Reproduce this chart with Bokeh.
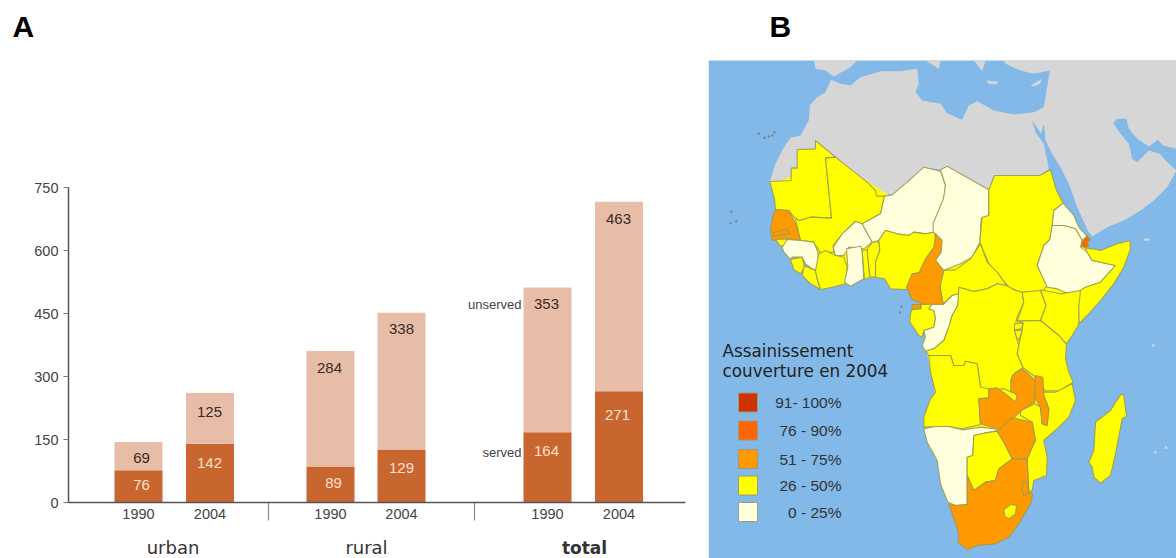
from bokeh.core.properties import value
from bokeh.embed import file_html
from bokeh.layouts import row
from bokeh.models import FixedTicker, LinearAxis, Range1d
from bokeh.plotting import figure
from bokeh.resources import INLINE

# ---------- panel A data ----------
years = ["1990", "2004", "1990", "2004", "1990", "2004"]
groups = ["urban", "rural", "total"]
y_ticks = [0, 150, 300, 450, 600, 750]
served_labels = [76, 142, 89, 129, 164, 271]
unserved_labels = [69, 125, 284, 338, 353, 463]
# drawn heights of the bars, read against the axis (they run a little below the printed numbers)
served_drawn = [77, 140, 86, 126, 167, 265]
unserved_drawn = [67, 121, 275, 326, 345, 451]

# ---------- panel A layout ----------
PX_PER_UNIT = 0.42
BASE_PX = 502
def val(py):
    return (BASE_PX - py) / PX_PER_UNIT
bar_x = [138, 209.5, 330, 401, 547, 618.5]
served_text_x = [141, 209, 333, 401, 546, 617]
unserved_text_x = [141, 209, 329, 401, 546, 618]
served_text_py = [484, 462, 482, 467, 450, 414]
unserved_text_py = [457, 411, 367, 328, 303, 218]
group_x = [172.5, 366, 584]
sep_x = [268, 474]

DARK = "#c9652e"
LIGHT = "#e8bda7"
FONT = "Liberation Sans"

a = figure(width=708, height=558, x_range=Range1d(0, 708),
           y_range=Range1d(val(558), val(0)), output_backend="svg",
           toolbar_location=None, min_border=0, outline_line_color=None)
a.grid.visible = False
a.xaxis.visible = False
a.yaxis.visible = False

yax = LinearAxis(fixed_location=68, bounds=(0, 750), ticker=FixedTicker(ticks=y_ticks))
yax.axis_line_color = "#555555"; yax.axis_line_width = 1.5
yax.major_tick_line_color = "#777777"; yax.major_tick_out = 5; yax.major_tick_in = 0
yax.minor_tick_line_color = None
yax.major_label_text_font = FONT; yax.major_label_text_font_size = "14.5px"
yax.major_label_text_color = "#444444"; yax.major_label_standoff = 5
a.add_layout(yax, "left")

xax = LinearAxis(fixed_location=0, bounds=(68, 685), ticker=FixedTicker(ticks=bar_x))
xax.major_label_overrides = dict(zip(bar_x, years))
xax.axis_line_color = "#555555"; xax.axis_line_width = 1.5
xax.major_tick_line_color = None; xax.minor_tick_line_color = None
xax.major_label_text_font = FONT; xax.major_label_text_font_size = "14.5px"
xax.major_label_text_color = "#444444"; xax.major_label_standoff = 0
a.add_layout(xax, "below")

tops = [s + u for s, u in zip(served_drawn, unserved_drawn)]
a.vbar(x=bar_x, width=48, bottom=0, top=served_drawn, fill_color=DARK, line_color=None)
a.vbar(x=bar_x, width=48, bottom=served_drawn, top=tops, fill_color=LIGHT, line_color=None)
a.segment(x0=sep_x, x1=sep_x, y0=[0, 0], y1=[val(520)] * 2, line_color="#888888", line_width=1.2)

a.text(x=served_text_x, y=[val(p) for p in served_text_py], text=[str(v) for v in served_labels],
       text_align="center", text_baseline="middle", text_font=value(FONT),
       text_font_size="15px", text_color="#fde3cf")
a.text(x=unserved_text_x, y=[val(p) for p in unserved_text_py], text=[str(v) for v in unserved_labels],
       text_align="center", text_baseline="middle", text_font=value(FONT),
       text_font_size="15px", text_color="#3a2a24")
a.text(x=[521, 521], y=[val(304), val(452)], text=["unserved", "served"],
       text_align="right", text_baseline="middle", text_font=value(FONT),
       text_font_size="13px", text_color="#444444")
a.text(x=group_x[:2], y=[val(547)] * 2, text=groups[:2], text_align="center",
       text_baseline="middle", text_font=value("DejaVu Sans"), text_font_size="18px",
       text_color="#333333")
a.text(x=group_x[2:], y=[val(547)], text=groups[2:], text_align="center",
       text_baseline="middle", text_font=value("DejaVu Sans"), text_font_size="17px",
       text_font_style="bold", text_color="#333333")
a.text(x=[12], y=[val(26)], text=["A"], text_baseline="alphabetic", text_font=value(FONT),
       text_font_size="30px", text_font_style="bold", text_color="#000000")

# ---------- panel B data: outlines, each in a crop's own 3x coordinates ----------
OCEAN = "#82b9e9"; GREY = "#d6d6d6"; YEL = "#ffff00"; PALE = "#ffffdc"
ORG = "#ff9900"; RED = "#ff6600"; DARKRED = "#cc3300"
Z3 = (700, 50); Z4 = (700, 300); Z5 = (890, 230); Z6 = (760, 135); Z7 = (915, 360); Z8 = (950, 160)

grey_land = [
    (Z3, [(208,392),(225,340),(250,290),(270,262),(300,255),(325,210),(328,165),(350,140),(375,125),(392,88),
          (420,100),(450,105),(480,80),(540,62),(600,62),(650,55),(655,100),(645,125),(665,150),(720,160),
          (740,188),(785,208),(805,165),(830,152),(880,180),(940,192),(1000,185),(1030,170),(1048,60),
          (1000,70),(960,60),(915,40),(910,30),(1428,30),(1428,360),(1400,410),(1360,450),(1320,480),(1270,510),
          (1220,530),(1175,558),(1162,540),(1130,470),(1105,400),(1080,350),(1055,310),(1035,270),(1030,220),
          (1022,250),(995,210),(1005,245),(1030,280),(1045,355),(1018,378),(880,375),(865,418),(820,395),
          (740,347),(718,358),(675,350),(630,385),(580,430),(545,435),(510,410),(405,320),(345,272),(345,295),
          (290,298),(290,350),(272,352),(272,392)]),
    (Z3, [(340,30),(470,30),(450,50),(400,78),(375,60),(345,55)]),
    (Z3, [(675,30),(720,30),(715,55)]),
    (Z3, [(820,30),(855,30),(845,62)]),
    (Z3, [(858,90),(895,94),(885,102),(865,100)]),
    (Z3, [(990,105),(1025,85),(1018,100),(1000,108)]),
    (Z3, [(1328,565),(1347,563),(1345,571),(1332,571)]),
]
blue_gulf = [
    (Z3, [(1238,218),(1250,205),(1278,205),(1285,235),(1310,265),(1345,288),(1372,268),(1388,285),(1428,295),
          (1428,360),(1395,330),(1378,310),(1345,300),(1310,335),(1295,325),(1285,280),(1260,250)]),
]
# coarse inland outline laid under the countries so that no sea shows between neighbours
land_under = [(775,205),(780,180),(835,160),(890,196),(940,172),(990,190),(1040,176),(1065,225),(1078,240),
              (1090,252),(1110,250),(1072,320),(1060,370),(1060,405),(1040,440),(1040,470),(1025,490),(1020,510),
              (965,545),(952,500),(930,430),(935,395),(925,345),(925,305),(912,292),(900,284),(885,276),
              (860,278),(820,278),(792,245)]
countries = [
    (YEL, Z6, [(28,138),(92,135),(92,98),(110,98),(110,42),(165,40),(165,15),(225,65),(195,68),(213,248),(150,245),(118,255),(105,250),(85,225),(45,222),(42,190)]),
    (YEL, Z6, [(195,68),(225,65),(320,140),(345,165),(348,182),(372,182),(360,235),(305,265),(285,258),(245,295),(218,330),(220,350),(180,352),(160,320),(120,315),(105,250),(118,255),(150,245),(213,248)]),
    (ORG, Z6, [(45,222),(85,225),(105,265),(120,315),(85,310),(35,315),(30,280),(38,240)]),
    (ORG, Z6, [(38,290),(80,282),(88,295),(40,302)]),
    (YEL, Z6, [(45,312),(80,310),(78,330),(60,332)]),
    (PALE, Z6, [(65,335),(80,312),(120,315),(160,320),(172,350),(175,405),(155,400),(135,385),(125,365),(95,365),(90,372),(70,350)]),
    (YEL, Z6, [(90,372),(125,365),(132,395),(120,415),(100,403)]),
    (YEL, Z6, [(130,395),(135,392),(165,405),(170,430),(180,462),(150,445),(125,420)]),
    (YEL, Z6, [(175,355),(195,345),(225,360),(250,365),(260,395),(255,445),(215,455),(180,462),(170,430),(165,405)]),
    (PALE, Z6, [(218,335),(245,295),(285,258),(305,265),(335,320),(310,340),(265,335),(250,360),(225,360)]),
    (PALE, Z6, [(258,340),(300,332),(305,345),(310,430),(270,452),(252,440),(262,395)]),
    (YEL, Z6, [(305,345),(320,342),(328,425),(312,432)]),
    (YEL, Z6, [(320,342),(335,320),(355,318),(358,345),(345,380),(345,425),(328,425)]),
    (PALE, Z6, [(372,182),(395,178),(440,140),(490,95),(540,107),(555,150),(550,190),(520,265),(520,290),(495,295),(460,290),(445,300),(410,295),(375,285),(355,315),(335,320),(305,265),(360,235)]),
    (YEL, Z6, [(375,285),(410,295),(445,300),(460,290),(495,295),(522,290),(530,330),(505,375),(490,410),(455,415),(440,462),(390,460),(372,430),(345,425),(345,380),(358,345),(355,315)]),
    (PALE, Z3, [(720,358),(740,347),(865,418),(865,495),(842,505),(838,575),(815,620),(780,640),(729,660),(705,630),(720,580),(705,550),(698,545),(698,519),(729,444),(735,405)]),
    (YEL, Z8, [(132,45),(268,45),(300,28),(318,90),(338,128),(310,150),(305,195),(298,237),(280,255),(260,315),(290,375),(270,398),(215,398),(175,380),(150,350),(115,310),(88,245),(95,170),(115,165),(115,88)]),
    (PALE, Z8, [(338,128),(370,165),(385,200),(410,228),(395,240),(375,205),(340,195),(305,195),(310,150)]),
    (PALE, Z8, [(305,195),(340,195),(375,205),(395,240),(390,260),(410,275),(425,300),(495,315),(450,365),(405,380),(385,395),(350,398),(320,385),(290,380),(260,315),(280,255),(298,237)]),
    (YEL, Z8, [(405,262),(425,265),(450,270),(500,250),(538,240),(540,265),(520,320),(490,370),(450,420),(410,465),(385,490),(383,395),(405,380),(450,365),(495,315),(425,300),(410,275)]),
    (RED, Z8, [(410,226),(420,238),(410,245),(415,255),(405,262),(393,258),(395,242)]),
    (YEL, Z5, [(150,120),(195,118),(240,85),(270,40),(290,95),(320,125),(348,165),(320,160),(290,175),(250,183),(205,170),(205,190),(185,195),(158,220),(150,175)]),
    (ORG, Z5, [(135,10),(155,30),(152,65),(135,90),(160,120),(148,170),(158,222),(95,220),(65,207),(48,170),(65,130),(85,128),(105,85),(130,50)]),
    (ORG, Z5, [(65,222),(92,222),(92,235),(65,237)]),
    (YEL, Z5, [(65,237),(92,235),(92,222),(125,222),(115,235),(130,240),(135,262),(130,290),(100,300),(95,320),(85,315),(58,275),(60,250)]),
    (PALE, Z5, [(158,222),(185,195),(205,190),(202,225),(185,255),(175,290),(160,330),(130,355),(105,362),(95,345),(105,320),(100,300),(130,290),(135,262),(130,240),(115,235),(125,222)]),
    (YEL, Z5, [(205,170),(250,183),(290,175),(320,160),(348,165),(375,180),(395,185),(400,215),(378,265),(372,300),(385,345),(380,370),(398,412),(375,425),(360,450),(365,487),(340,475),(330,475),(295,490),(270,470),(260,400),(225,392),(220,405),(190,405),(180,375),(115,375),(105,362),(130,355),(160,330),(175,290),(185,255),(202,225)]),
    (YEL, Z5, [(395,185),(450,180),(467,225),(450,270),(380,272),(400,215)]),
    (YEL, Z5, [(450,178),(510,190),(570,180),(565,225),(565,282),(545,315),(528,340),(505,315),(450,270),(467,225)]),
    (YEL, Z5, [(372,280),(398,277),(392,295),(372,298)]),
    (YEL, Z5, [(372,300),(395,300),(385,330),(378,320)]),
    (YEL, Z5, [(380,272),(450,270),(505,315),(528,342),(525,385),(535,425),(548,455),(510,480),(465,482),(430,435),(398,412),(380,370),(385,345),(395,300),(398,277)]),
    (YEL, Z5, [(115,375),(180,375),(190,405),(220,405),(225,392),(260,400),(270,470),(295,475),(295,502),(265,505),(270,582),(215,595),(175,588),(135,588),(100,590),(100,560),(120,505),(135,485),(120,425)]),
    (YEL, Z7, [(315,150),(358,130),(375,140),(380,190),(395,195),(400,145),(385,105),(382,95),(420,95),(470,70),(480,120),(460,170),(430,200),(385,240),(395,290),(393,345),(355,360),(350,390),(340,395),(335,295),(350,260),(360,240),(350,185),(315,165)]),
    (ORG, Z7, [(322,25),(360,60),(358,125),(320,148),(295,172),(255,208),(195,190),(190,115),(220,112),(220,85),(245,82),(270,100),(300,125),(305,105),(285,90),(290,45)]),
    (ORG, Z7, [(360,45),(382,50),(385,105),(400,145),(395,195),(380,190),(375,140),(360,115),(358,80)]),
    (PALE, Z7, [(25,205),(60,198),(100,198),(140,208),(195,200),(240,205),(245,212),(205,218),(175,225),(172,285),(155,290),(155,432),(120,435),(97,425),(75,370),(65,300),(35,245)]),
    (YEL, Z7, [(175,225),(205,218),(245,212),(265,245),(290,295),(250,325),(240,360),(210,365),(175,390),(155,345),(155,290),(172,285)]),
    (ORG, Z7, [(245,212),(290,172),(350,185),(360,240),(350,260),(335,295),(290,295),(265,245)]),
    (ORG, Z7, [(290,295),(335,295),(340,395),(352,400),(345,430),(310,490),(280,530),(240,550),(185,555),(155,568),(128,545),(130,520),(100,430),(120,435),(155,432),(155,345),(175,390),(210,365),(240,360),(250,325)]),
    (YEL, Z7, [(265,448),(285,432),(303,435),(300,460),(280,475),(268,468)]),
    (ORG, Z7, [(322,365),(335,365),(340,400),(325,405),(320,390)]),
    (YEL, Z7, [(618,100),(625,105),(633,168),(620,175),(600,280),(585,345),(555,368),(535,350),(530,320),(520,305),(535,270),(540,185),(585,150),(600,125)]),
]
islets_dark = [(Z3, [(175,250),(192,262),(205,258),(215,255),(222,245),(93,484),(90,518),(107,513)]),
               (Z4, [(603,18),(598,36)])]
islets_light = [(Z4, [(1358,135),(1365,455),(1397,441)])]

legend_title = ["Assainissement", "couverture en 2004"]
legend_colors = [DARKRED, RED, ORG, YEL, PALE]
legend_labels = ["91- 100%", "76 - 90%", "51 - 75%", "26 - 50%", "0 - 25%"]
legend_py = [402, 430, 458.5, 485, 511.5]

def place(origin, pts):
    return [origin[0] + p[0] / 3 for p in pts], [origin[1] + p[1] / 3 for p in pts]

b = figure(width=468, height=558, x_range=Range1d(708, 1176), y_range=Range1d(558, 0),
           output_backend="svg", toolbar_location=None, min_border=0, outline_line_color=None)
b.axis.visible = False
b.grid.visible = False

b.quad(left=[708], right=[1176], top=[60], bottom=[558], fill_color=OCEAN, line_color=None)
for origin, pts in grey_land:
    xs, ys = place(origin, pts)
    b.patch(xs, ys, fill_color=GREY, line_color=None)
for origin, pts in blue_gulf:
    xs, ys = place(origin, pts)
    b.patch(xs, ys, fill_color=OCEAN, line_color=None)
b.patch([p[0] for p in land_under], [p[1] for p in land_under], fill_color=YEL, line_color=None)
for colour, origin, pts in countries:
    xs, ys = place(origin, pts)
    b.patch(xs, ys, fill_color=colour, line_color="#9a9a58", line_width=1.1, line_alpha=0.9)
for origin, pts in islets_dark:
    xs, ys = place(origin, pts)
    b.scatter(xs, ys, size=2.5, fill_color="#7a8794", line_color=None)
for origin, pts in islets_light:
    xs, ys = place(origin, pts)
    b.scatter(xs, ys, size=3, fill_color="#c9d3dc", line_color=None)

b.rect(x=[747.5] * 5, y=legend_py, width=19, height=19, fill_color=legend_colors,
       line_color="#9a9a80", line_width=1)
b.text(x=[841] * 5, y=legend_py, text=legend_labels, text_align="right", text_baseline="middle",
       text_font=value(FONT), text_font_size="15.5px", text_color="#333333")
b.text(x=[722, 722], y=[350, 370.5], text=legend_title, text_baseline="middle",
       text_font=value("DejaVu Sans"), text_font_size="16.8px", text_color="#222222")
b.text(x=[769], y=[26], text=["B"], text_baseline="alphabetic", text_font=value(FONT),
       text_font_size="30px", text_font_style="bold", text_color="#000000")

open("out.html", "w").write(file_html(row(a, b, spacing=0), INLINE))
